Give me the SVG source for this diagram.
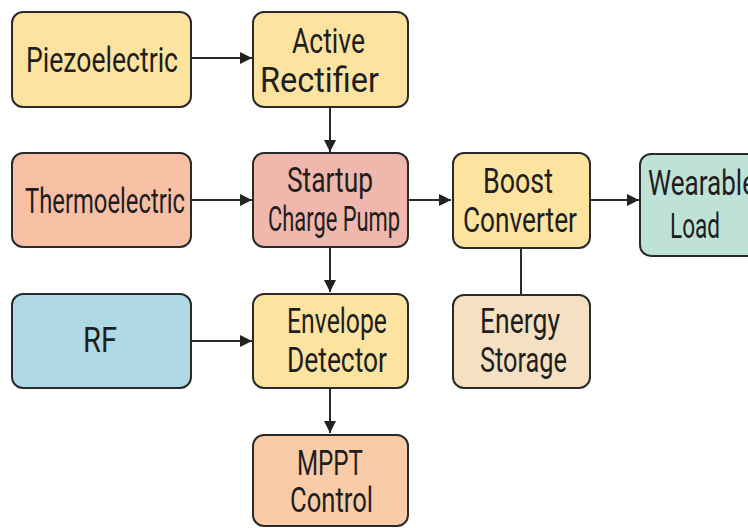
<svg xmlns="http://www.w3.org/2000/svg" width="748" height="528" viewBox="0 0 748 528">
<defs>
<marker id="ah" viewBox="0 0 10 10" refX="10" refY="5" markerWidth="12" markerHeight="12" markerUnits="userSpaceOnUse" orient="auto">
<path d="M0,0 L10,5 L0,10 Z" fill="#222"/>
</marker>
<style>
.box{stroke:#2a2a2a;stroke-width:2}
.t{font-family:Roboto,"Liberation Sans",sans-serif;font-size:35px;fill:#1e1e1e;text-anchor:start}
.c{stroke:#2a2a2a;stroke-width:2;fill:none}
</style>
</defs>
<rect width="748" height="528" fill="#ffffff"/>
<g id="connectors">
<line class="c" x1="191" y1="58" x2="252" y2="58" marker-end="url(#ah)"/>
<line class="c" x1="330" y1="107" x2="330" y2="152" marker-end="url(#ah)"/>
<line class="c" x1="191" y1="200" x2="252" y2="200" marker-end="url(#ah)"/>
<line class="c" x1="408" y1="200" x2="451" y2="200" marker-end="url(#ah)"/>
<line class="c" x1="590" y1="200" x2="639" y2="200" marker-end="url(#ah)"/>
<line class="c" x1="521" y1="248" x2="521" y2="295"/>
<line class="c" x1="330" y1="247" x2="330" y2="292" marker-end="url(#ah)"/>
<line class="c" x1="191" y1="341" x2="252" y2="341" marker-end="url(#ah)"/>
<line class="c" x1="330" y1="388" x2="330" y2="433" marker-end="url(#ah)"/>
</g>
<g id="piezoelectric">
<rect class="box" x="12" y="12" width="179" height="95" rx="11" fill="#FCE3A0"/>
<text class="t" x="26" y="72" textLength="152" lengthAdjust="spacingAndGlyphs">Piezoelectric</text>
</g>
<g id="active-rectifier">
<rect class="box" x="253" y="12" width="155" height="95" rx="11" fill="#FCE3A0"/>
<text class="t" x="292" y="53" textLength="73" lengthAdjust="spacingAndGlyphs">Active</text>
<text class="t" x="260" y="92" textLength="119" lengthAdjust="spacingAndGlyphs">Rectifier</text>
</g>
<g id="thermoelectric">
<rect class="box" x="12" y="153" width="179" height="94" rx="11" fill="#F7BFA4"/>
<text class="t" x="25" y="213" textLength="160" lengthAdjust="spacingAndGlyphs">Thermoelectric</text>
</g>
<g id="startup-charge-pump">
<rect class="box" x="253" y="153" width="155" height="94" rx="11" fill="#F0B7AC"/>
<text class="t" x="287" y="192" textLength="86" lengthAdjust="spacingAndGlyphs">Startup</text>
<text class="t" x="268" y="231" textLength="132" lengthAdjust="spacingAndGlyphs">Charge Pump</text>
</g>
<g id="boost-converter">
<rect class="box" x="453" y="153" width="137" height="95" rx="11" fill="#FCE3A0"/>
<text class="t" x="483" y="193" textLength="70" lengthAdjust="spacingAndGlyphs">Boost</text>
<text class="t" x="463" y="232" textLength="114" lengthAdjust="spacingAndGlyphs">Converter</text>
</g>
<g id="wearable-load">
<rect class="box" x="640" y="154" width="130" height="102" rx="11" fill="#BFE2D6"/>
<text class="t" x="648" y="195" textLength="108" lengthAdjust="spacingAndGlyphs">Wearable</text>
<text class="t" x="670" y="238" textLength="50" lengthAdjust="spacingAndGlyphs">Load</text>
</g>
<g id="energy-storage">
<rect class="box" x="453" y="295" width="137" height="93" rx="11" fill="#F5E1C2"/>
<text class="t" x="480" y="333" textLength="80" lengthAdjust="spacingAndGlyphs">Energy</text>
<text class="t" x="480" y="372" textLength="87" lengthAdjust="spacingAndGlyphs">Storage</text>
</g>
<g id="rf">
<rect class="box" x="12" y="294" width="179" height="94" rx="11" fill="#AFD9E5"/>
<text class="t" x="83" y="352" textLength="34" lengthAdjust="spacingAndGlyphs">RF</text>
</g>
<g id="envelope-detector">
<rect class="box" x="253" y="294" width="155" height="94" rx="11" fill="#FCE3A0"/>
<text class="t" x="287" y="333" textLength="100" lengthAdjust="spacingAndGlyphs">Envelope</text>
<text class="t" x="287" y="372" textLength="100" lengthAdjust="spacingAndGlyphs">Detector</text>
</g>
<g id="mppt-control">
<rect class="box" x="253" y="435" width="155" height="91" rx="11" fill="#F9CBA7"/>
<text class="t" x="297" y="475" textLength="66" lengthAdjust="spacingAndGlyphs">MPPT</text>
<text class="t" x="290" y="512" textLength="83" lengthAdjust="spacingAndGlyphs">Control</text>
</g>
</svg>
